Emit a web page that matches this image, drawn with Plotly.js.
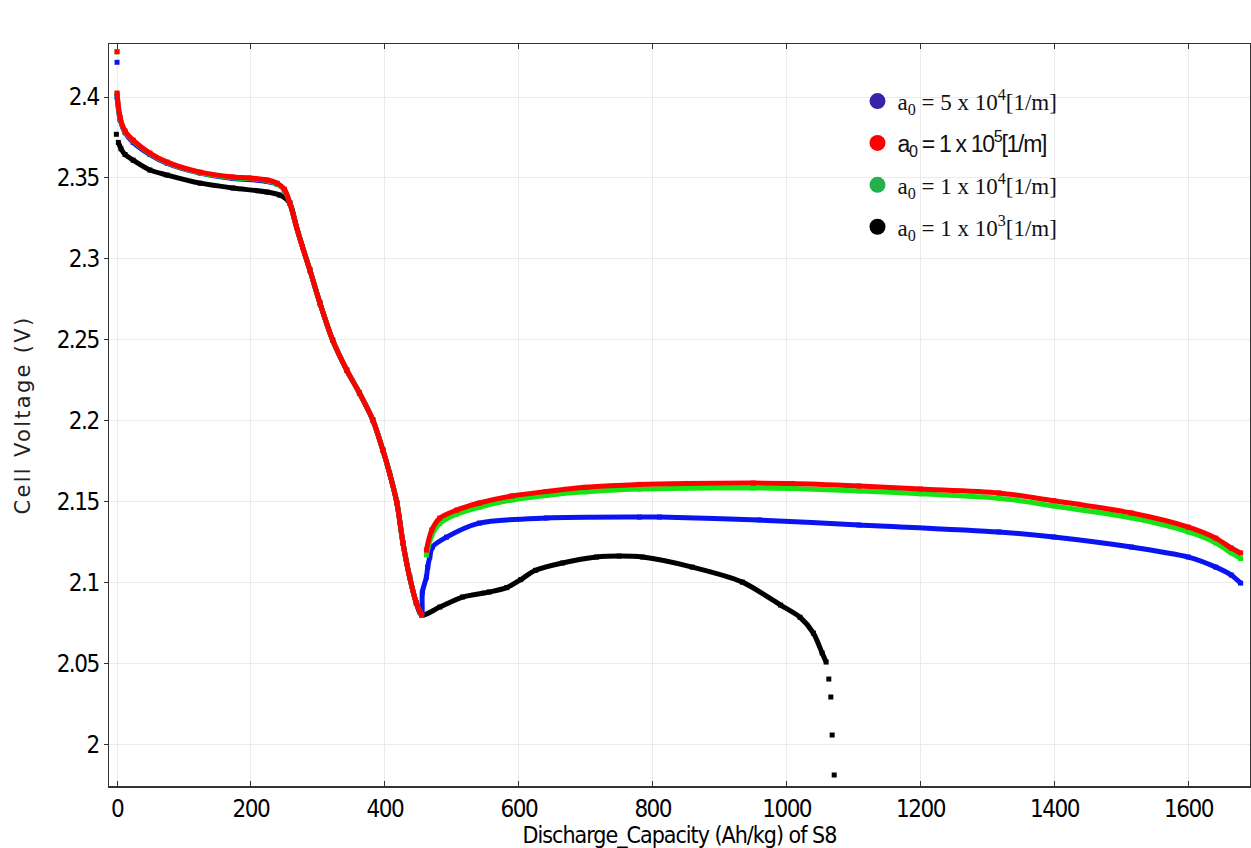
<!DOCTYPE html>
<html>
<head>
<meta charset="utf-8">
<script src="https://cdn.plot.ly/plotly-3.0.1.min.js"></script>
<style>html,body{margin:0;padding:0;background:#fff;}#chart{width:1251px;height:848px;}</style>
</head>
<body>
<div id="chart"></div>
<script>
// ---- data ----
const descentX = [258, 268, 277, 288, 303, 322, 343, 362, 382, 397, 407, 418, 427, 437, 447, 455];
const descentY = [2.3345, 2.3197, 2.3073, 2.2931, 2.2727, 2.2498, 2.2313, 2.2171, 2.2004, 2.1818, 2.1676, 2.1491, 2.1244, 2.1033, 2.0873, 2.0798];

const redX = [0, null, 0, 4.5, 12, 24, 49, 75, 124, 173, 198, 224, 239, 250].concat(descentX, [null, 462, 470, 482, 507, 541, 590, 641, 700, 780, 850, 950, 1008, 1108, 1200, 1317, 1399, 1515, 1600, 1641, 1664, 1678]);
const redY = [2.428, null, 2.4025, 2.3876, 2.379, 2.3734, 2.3654, 2.3598, 2.3536, 2.3506, 2.3500, 2.3487, 2.3468, 2.3430].concat(descentY, [null, 2.1200, 2.1324, 2.1398, 2.1447, 2.1491, 2.1535, 2.1562, 2.1588, 2.1606, 2.1612, 2.1614, 2.1612, 2.1596, 2.1577, 2.1553, 2.1505, 2.1429, 2.1342, 2.1274, 2.1213, 2.1182]);

const greenX = [0, null, 0, 4.5, 12, 24, 49, 75, 124, 173, 198, 224, 239, 250].concat(descentX, [null, 462, 470, 482, 507, 541, 590, 641, 700, 780, 850, 950, 1008, 1108, 1200, 1317, 1399, 1515, 1600, 1641, 1664, 1678]);
const greenY = [2.428, null, 2.4020, 2.3872, 2.3786, 2.3730, 2.3650, 2.3594, 2.3532, 2.3502, 2.3496, 2.3483, 2.3464, 2.3426].concat(descentY, [null, 2.1170, 2.1290, 2.1365, 2.1422, 2.1465, 2.1510, 2.1538, 2.1560, 2.1577, 2.1583, 2.1584, 2.1580, 2.1566, 2.1548, 2.1521, 2.1473, 2.1399, 2.1312, 2.1244, 2.1183, 2.1148]);

const blueX = [0, null, 0, 4.5, 12, 24, 49, 75, 124, 173, 198, 224, 239, 250].concat(descentX, [456, 462, 464, 467, 471, 492, 541, 641, 780, 810, 959, 1108, 1317, 1399, 1515, 1600, 1641, 1664, 1678]);
const blueY = [2.4215, null, 2.4000, 2.3860, 2.3780, 2.3720, 2.3645, 2.3590, 2.3530, 2.3497, 2.3490, 2.3478, 2.3462, 2.3425].concat(descentY, [2.0940, 2.1033, 2.1095, 2.1157, 2.1219, 2.1280, 2.1367, 2.1398, 2.1404, 2.1404, 2.1386, 2.1355, 2.1312, 2.1281, 2.1219, 2.1157, 2.1095, 2.1046, 2.0996]);

const blackX = [-1, null, 2, 6, 12, 24, 49, 75, 124, 173, 224, 243].concat(descentX, [482, 516, 556, 582, 603, 625, 665, 716, 750, 785, 859, 934, 991, 1020, 1040, 1053, 1059, null, 1063, null, 1066, null, 1068, null, 1071]);
const blackY = [2.3770, null, 2.3720, 2.3680, 2.3645, 2.3610, 2.3549, 2.3518, 2.3468, 2.3438, 2.3413, 2.3394].concat(descentY, [2.0848, 2.0910, 2.0941, 2.0968, 2.1018, 2.1075, 2.1120, 2.1157, 2.1163, 2.1157, 2.1095, 2.1002, 2.0860, 2.0785, 2.0687, 2.0564, 2.0508, null, 2.0403, null, 2.0292, null, 2.0057, null, 1.9810]);

const legendNames = [
  'a<sub>0</sub> = 5 x 10<sup>4</sup>[1/m]',
  '<span style="font-family:Liberation Sans, Arial, sans-serif"><span style="letter-spacing:-1.3px">a<sub>0</sub> = 1 x 10<sup>5</sup>[1/m]</span></span>',
  'a<sub>0</sub> = 1 x 10<sup>4</sup>[1/m]',
  'a<sub>0</sub> = 1 x 10<sup>3</sup>[1/m]'
];
const legendColors = ['#3a22a8', '#ff0000', '#22b14c', '#000000'];

const xTickVals = [0, 200, 400, 600, 800, 1000, 1200, 1400, 1600];
const xTickText = ['0', '200', '400', '600', '800', '1000', '1200', '1400', '1600'];
const yTickVals = [2, 2.05, 2.1, 2.15, 2.2, 2.25, 2.3, 2.35, 2.4];
const yTickText = ['2', '2.05', '2.1', '2.15', '2.2', '2.25', '2.3', '2.35', '2.4'];

// ---- traces ----
function curve(x, y, color) {
  return {
    x: x, y: y, type: 'scatter', mode: 'lines+markers', showlegend: false,
    line: {color: color, width: 5, shape: 'spline', smoothing: 0.8},
    marker: {color: color, size: 5, symbol: 'square'},
    hoverinfo: 'x+y'
  };
}
const traces = [
  curve(blackX, blackY, '#000000'),
  curve(blueX, blueY, '#0a14f0'),
  curve(greenX, greenY, '#14e414'),
  curve(redX, redY, '#ff0000')
];
for (let i = 0; i < legendNames.length; i++) {
  traces.push({
    x: [null], y: [null], type: 'scatter', mode: 'markers',
    name: legendNames[i], legendrank: i + 1, legendgroup: 'g' + i,
    marker: {color: legendColors[i], size: 16, symbol: 'circle'}
  });
}

function narrow(list) {
  return list.map(t => '<span style="letter-spacing:-1.5px">' + t + '</span>');
}

const tickFont = {family: 'DejaVu Sans Condensed, DejaVu Sans, sans-serif', size: 24, color: '#000'};
const layout = {
  width: 1251, height: 848,
  margin: {l: 109, r: 1, t: 44, b: 62},
  paper_bgcolor: '#fff', plot_bgcolor: '#fff',
  showlegend: true,
  legend: {
    x: 0.656, y: 0.952, xanchor: 'left', yanchor: 'top',
    font: {family: 'Liberation Serif, Times New Roman, serif', size: 23, color: '#111'},
    bgcolor: 'rgba(0,0,0,0)', traceorder: 'grouped', tracegroupgap: 9,
    itemsizing: 'trace'
  },
  xaxis: {
    range: [-12, 1692], tickvals: xTickVals, ticktext: narrow(xTickText), ticks: 'inside', ticklen: 5,
    tickcolor: '#333', showline: true, linecolor: '#333', linewidth: 1.5, mirror: 'ticks',
    showgrid: true, gridcolor: '#ebebeb', zeroline: false, tickfont: tickFont,
    ticklabelstandoff: 1,
    title: {text: '<span style="letter-spacing:-1px">Discharge_Capacity (Ah/kg) of S8</span>', font: {family: tickFont.family, size: 23, color: '#000'}, standoff: 0}
  },
  yaxis: {
    range: [1.9742, 2.4328], tickvals: yTickVals, ticktext: narrow(yTickText), ticks: 'outside', ticklen: 4,
    tickcolor: '#333', showline: true, linecolor: '#333', linewidth: 1.5, mirror: 'ticks',
    showgrid: true, gridcolor: '#ebebeb', zeroline: false, tickfont: tickFont,
    title: {text: '<span style="letter-spacing:2.3px">Cell Voltage (V)</span>', font: {family: 'DejaVu Sans, Verdana, sans-serif', size: 21, color: '#222'}, standoff: 20}
  }
};
Plotly.newPlot('chart', traces, layout, {displayModeBar: false, staticPlot: true});
</script>
</body>
</html>
